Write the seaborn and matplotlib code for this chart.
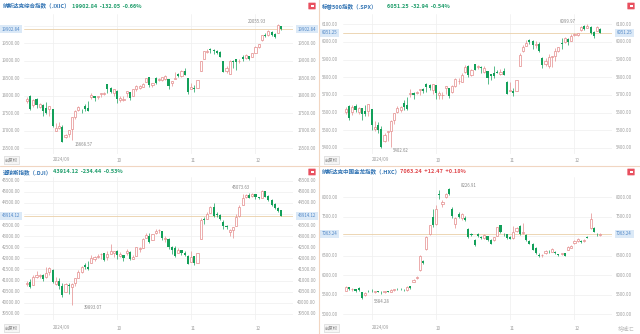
import numpy as np
import pandas as pd
import matplotlib
matplotlib.use("Agg")
import matplotlib.pyplot as plt
import seaborn as sns
from matplotlib import transforms
from matplotlib.patches import FancyBboxPatch

sns.set_theme(style="white")
plt.rcParams['font.family'] = ['Noto Sans CJK SC', 'DejaVu Sans']

W, H = 640, 334

# ---------------- data ----------------
dates = pd.bdate_range('2024-08-21', '2024-12-12', freq='C',
                       holidays=['2024-09-02', '2024-11-28'])
month_labels = ['2024/09', '10', '11', '12']
month_starts = ['2024-09-03', '2024-10-01', '2024-11-01', '2024-12-02']

ixic_open = [17850, 17990, 17730, 17900, 17670, 17740, 17650, 17620,
             17620, 17000, 17080, 17120, 16820, 16900, 17050, 17400, 17580, 17600, 17720, 17640,
             17970, 17980, 17970, 18050, 18060, 18330, 18220, 18080,
             18150, 17870, 17880, 18080, 18100, 18000, 18180, 18220, 18240, 18390, 18530, 18320,
             18520, 18440, 18440, 18480, 18480, 18360, 18490, 18630, 18570, 18720, 18500,
             18200, 18230, 18220, 18720, 19060, 19250, 19350, 19300, 19290, 19250, 18990, 18710,
             18630, 19000, 19040, 18980, 19120, 19090, 19150, 19100,
             19230, 19400, 19580, 19750, 19740, 19820, 19760, 19790, 19990]
ixic_high = [17960, 18017, 17900, 17930, 17780, 17760, 17820, 17720,
             17625, 17230, 17240, 17170, 16920, 17030, 17400, 17590, 17710, 17620, 17760, 17840,
             18070, 18000, 18000, 18090, 18110, 18340, 18240, 18200,
             18160, 17980, 18000, 18140, 18110, 18190, 18300, 18300, 18370, 18520, 18540, 18370,
             18530, 18520, 18550, 18600, 18490, 18430, 18690, 18640, 18740, 18780, 18510,
             18360, 18300, 18460, 19000, 19280, 19350, 19370, 19340, 19320, 19270, 19000, 18840,
             19010, 19020, 19060, 19060, 19160, 19180, 19150, 19230,
             19410, 19490, 19740, 19790, 19870, 19850, 19800, 20055.93, 20000]
ixic_low = [17800, 17580, 17670, 17640, 17640, 17420, 17480, 17430,
            17100, 16990, 17040, 16668.57, 16790, 16810, 16740, 17330, 17570, 17520, 17560, 17560,
            17900, 17840, 17910, 17960, 18020, 18090, 18070, 17990,
            17800, 17830, 17840, 17960, 17880, 17990, 18150, 18180, 18240, 18380, 18250, 18250,
            18340, 18410, 18410, 18440, 18180, 18290, 18480, 18530, 18540, 18600, 18060,
            18190, 18120, 18210, 18710, 19050, 19220, 19220, 19180, 19200, 19100, 18670, 18650,
            18620, 18800, 18750, 18930, 18980, 19060, 19030, 19100,
            19230, 19370, 19570, 19680, 19710, 19700, 19660, 19780, 19890]
ixic_close = [17918.99, 17619.35, 17877.79, 17725.77, 17754.82, 17556.03, 17516.43, 17713.62,
              17136.30, 17084.30, 17127.66, 16690.83, 16884.60, 17025.88, 17395.53, 17569.68,
              17683.98, 17592.13, 17628.06, 17573.30, 18013.98, 17948.32, 17974.27, 18074.52,
              18082.21, 18190.29, 18119.59, 18189.17,
              17910.36, 17925.12, 17918.48, 18137.85, 17923.90, 18182.92, 18291.62, 18282.05,
              18342.94, 18502.69, 18315.59, 18367.08, 18373.61, 18489.55, 18540.01, 18573.13,
              18276.65, 18415.49, 18518.61, 18567.19, 18712.75, 18607.93, 18095.15,
              18239.92, 18179.98, 18439.17, 18983.47, 19269.46, 19286.78, 19298.76, 19281.40,
              19230.74, 19107.65, 18680.12, 18791.81, 18987.47, 18966.14, 18972.42, 19003.65,
              19054.84, 19174.30, 19060.48, 19218.17,
              19403.95, 19480.91, 19735.12, 19700.26, 19859.77, 19736.69, 19687.24, 20034.89,
              19902.84]

spx_open = [5603, 5637, 5602, 5639, 5602, 5624, 5607, 5612,
            5623, 5507, 5529, 5507, 5442, 5490, 5496, 5557, 5605, 5615, 5655, 5641,
            5703, 5709, 5712, 5727, 5733, 5762, 5756, 5727,
            5757, 5698, 5698, 5737, 5737, 5715, 5751, 5778, 5775, 5829, 5866, 5816,
            5875, 5860, 5857, 5833, 5834, 5817, 5826, 5833, 5819, 5836, 5775,
            5723, 5725, 5722, 5864, 5947, 5976, 6009, 6003, 5985, 5990, 5912, 5874,
            5864, 5917, 5922, 5948, 5992, 6000, 6015, 6003,
            6040, 6041, 6069, 6089, 6081, 6083, 6058, 6060, 6075]
spx_high = [5633, 5643, 5641, 5651, 5631, 5627, 5646, 5651,
            5623, 5552, 5546, 5522, 5484, 5497, 5560, 5600, 5636, 5636, 5670, 5690,
            5733, 5716, 5725, 5735, 5742, 5767, 5764, 5765,
            5758, 5720, 5718, 5753, 5739, 5756, 5797, 5796, 5822, 5871, 5870, 5846,
            5878, 5872, 5866, 5863, 5835, 5818, 5862, 5842, 5847, 5851, 5781,
            5772, 5741, 5783, 5936, 5983, 6013, 6018, 6009, 6008, 6000, 5915, 5909,
            5932, 5920, 5964, 5973, 6020, 6026, 6020, 6044,
            6053, 6052, 6089, 6099, 6099.97, 6088, 6065, 6092, 6079]
spx_low = [5591, 5560, 5585, 5602, 5593, 5560, 5583, 5581,
           5504, 5499, 5486, 5402.62, 5434, 5441, 5406, 5535, 5600, 5605, 5614, 5615,
           5686, 5675, 5704, 5698, 5714, 5715, 5727, 5704,
           5675, 5679, 5675, 5703, 5683, 5714, 5745, 5763, 5775, 5824, 5804, 5808,
           5840, 5846, 5824, 5822, 5762, 5784, 5799, 5823, 5811, 5811, 5703,
           5723, 5696, 5722, 5864, 5945, 5976, 5986, 5962, 5966, 5943, 5853, 5865,
           5854, 5860, 5893, 5944, 5963, 5993, 5985, 6003,
           6033, 6034, 6061, 6070, 6079, 6048, 6024, 6060, 6051]
spx_close = [5620.85, 5570.64, 5634.61, 5616.84, 5625.80, 5592.18, 5591.96, 5648.40,
             5528.93, 5520.07, 5503.41, 5408.42, 5471.05, 5495.52, 5554.13, 5595.76,
             5626.02, 5633.09, 5634.58, 5618.26, 5713.64, 5702.55, 5718.57, 5732.93,
             5722.26, 5745.37, 5738.17, 5762.48,
             5708.75, 5709.54, 5699.94, 5751.07, 5695.94, 5751.13, 5792.04, 5780.05,
             5815.03, 5859.85, 5815.26, 5842.47, 5841.47, 5864.67, 5853.98, 5851.20,
             5797.42, 5809.86, 5808.12, 5823.52, 5832.92, 5813.67, 5705.45,
             5728.80, 5712.69, 5782.76, 5929.04, 5973.10, 5995.54, 6001.35, 5983.99,
             5985.38, 5949.17, 5870.62, 5893.62, 5916.98, 5917.11, 5948.71, 5969.34,
             5987.37, 6021.63, 5998.74, 6032.38,
             6047.15, 6049.88, 6086.49, 6075.11, 6090.27, 6052.85, 6034.91, 6084.19, 6051.25]

dji_open = [40830, 40920, 40800, 41160, 41190, 41250, 41160, 41400,
            41470, 40830, 41000, 40770, 40490, 40820, 40720, 40880, 41130, 41370, 41680, 41620,
            41790, 41960, 42080, 42190, 42220, 42060, 42190, 42260,
            42320, 42120, 42130, 42240, 42300, 41990, 42100, 42440, 42460, 42930, 43010, 42820,
            43130, 43260, 43240, 42880, 42880, 42530, 42480, 42230, 42370, 42220, 42100,
            41820, 42090, 41800, 42880, 43780, 43770, 44050, 44300, 43970, 43960, 43650, 43440,
            43200, 43290, 43450, 43890, 44400, 44780, 44860, 44790,
            44880, 44760, 44720, 45030, 44790, 44620, 44430, 44280, 44160]
dji_high = [40990, 41080, 41240, 41420, 41300, 41290, 41590, 41590,
            41510, 41140, 41100, 40870, 40900, 40870, 40890, 41130, 41460, 41660, 41810, 41900,
            42140, 42090, 42190, 42220, 42240, 42320, 42630, 42340,
            42370, 42270, 42140, 42410, 42310, 42140, 42520, 42490, 42900, 43140, 43160, 43110,
            43330, 43330, 43240, 42990, 42900, 42540, 42550, 42480, 42380, 42320, 42130,
            42310, 42110, 42240, 43800, 43870, 44070, 44350, 44490, 44100, 44010, 43710, 43520,
            43330, 43430, 43990, 44420, 44900, 44900, 44960, 44960,
            44890, 44770, 45073.63, 45040, 44840, 44650, 44480, 44310, 44170]
dji_low = [40770, 40660, 40780, 41120, 41110, 40960, 41110, 41250,
           40880, 40780, 40640, 40250, 40480, 40400, 39893.07, 40770, 41110, 41330, 41510, 41480,
           41790, 41870, 42030, 41990, 41880, 41940, 42190, 42080,
           41980, 42060, 41890, 42140, 41920, 41950, 42090, 42270, 42450, 42900, 42700, 42810,
           43080, 43140, 42820, 42740, 42400, 42180, 42060, 42220, 42160, 42120, 41740,
           41820, 41700, 41790, 42880, 43560, 43760, 44030, 43880, 43880, 43720, 43340, 43320,
           43000, 42920, 43440, 43880, 44380, 44700, 44700, 44780,
           44670, 44650, 44710, 44750, 44560, 44360, 44220, 44100, 43900]
dji_close = [40890.49, 40712.78, 41175.08, 41240.52, 41250.50, 41091.42, 41335.05, 41563.08,
             40936.93, 40974.97, 40755.75, 40345.41, 40829.59, 40736.96, 40861.71, 41096.77,
             41393.78, 41622.08, 41606.18, 41503.10, 42025.19, 42063.36, 42124.65, 42208.22,
             41914.75, 42175.11, 42313.00, 42330.15,
             42156.97, 42196.52, 42011.59, 42352.75, 41954.24, 42080.37, 42512.00, 42454.12,
             42863.86, 43065.22, 42740.42, 43077.70, 43239.05, 43275.91, 42931.60, 42924.89,
             42514.95, 42374.36, 42114.40, 42387.57, 42233.05, 42141.54, 41763.46,
             42052.19, 41794.60, 42221.88, 43729.93, 43729.34, 43988.99, 44293.13, 43910.98,
             43958.19, 43750.86, 43444.99, 43389.60, 43268.94, 43408.47, 43870.35, 44296.51,
             44736.57, 44860.31, 44722.06, 44910.65,
             44782.00, 44705.53, 45014.04, 44765.71, 44642.52, 44401.93, 44247.83, 44148.56,
             43914.12]

hxc_open = [5610, 5690, 5640, 5640, 5680, 5570, 5500, 5600,
            5600, 5570, 5590, 5580, 5560, 5580, 5580, 5620, 5660, 5650, 5620, 5620,
            5720, 5840, 5930, 6146, 6360, 6682, 7067, 7495,
            7308, 8090, 7830, 8000, 8220, 7700, 7320, 7560, 7460, 7480, 7180, 7060,
            6900, 7060, 6980, 6950, 7000, 6900, 6900, 7020, 7280, 7040, 7050,
            6980, 6950, 7130, 7260, 7080, 7040, 6880, 6813, 6700, 6530, 6510, 6560,
            6600, 6610, 6600, 6530, 6550, 6560, 6660, 6700,
            6820, 6870, 6880, 6880, 6980, 7200, 7210, 7060, 7040]
hxc_high = [5720, 5700, 5680, 5650, 5700, 5580, 5560, 5620,
            5640, 5600, 5610, 5600, 5600, 5610, 5640, 5660, 5680, 5670, 5640, 5720,
            5730, 5900, 5980, 6520, 6400, 7000, 7300, 7700,
            7800, 8190, 7920, 8120, 8226.91, 7760, 7500, 7620, 7600, 7520, 7200, 7080,
            6920, 7080, 7000, 7060, 7020, 6920, 6990, 7250, 7300, 7080, 7060,
            7000, 7260, 7250, 7290, 7350, 7060, 6900, 6830, 6720, 6560, 6540, 6650,
            6640, 6700, 6620, 6550, 6580, 6570, 6740, 6780,
            6900, 6950, 6900, 6920, 7000, 7605, 7230, 7080, 7090]
hxc_low = [5590, 5620, 5610, 5570, 5600, 5384.28, 5480, 5570,
           5560, 5540, 5560, 5520, 5540, 5560, 5560, 5610, 5630, 5620, 5600, 5600,
           5660, 5830, 5900, 6120, 6290, 6660, 7040, 7250,
           7300, 7950, 7760, 7980, 8060, 7480, 7200, 7480, 7420, 7400, 6960, 7000,
           6750, 6990, 6920, 6940, 6880, 6800, 6880, 7000, 7090, 7000, 6930,
           6920, 6940, 7110, 7040, 7060, 6880, 6800, 6640, 6540, 6480, 6480, 6550,
           6570, 6600, 6540, 6490, 6530, 6490, 6650, 6690,
           6810, 6860, 6840, 6860, 6950, 7190, 7100, 7000, 7020]
hxc_close = [5700, 5640, 5660, 5590, 5615, 5430, 5540, 5590,
             5590, 5580, 5575, 5560, 5590, 5575, 5630, 5650, 5645, 5640, 5615, 5700,
             5670, 5890, 5960, 6487, 6323, 6982, 7282, 7282,
             7692, 8060, 7880, 8090, 8090, 7530, 7460, 7500, 7560, 7420, 6974, 7030,
             6769, 7000, 6950, 7040, 6900, 6810, 6970, 7238, 7110, 7030, 6950,
             6930, 7120, 7220, 7060, 7100, 6900, 6813, 6650, 6560, 6500, 6520, 6630,
             6590, 6680, 6560, 6520, 6560, 6500, 6720, 6760,
             6880, 6920, 6850, 6900, 6960, 7451, 7110, 7050.77, 7063.24]

panels = [
    dict(name='纳斯达克综合指数（.IXIC）', quote='19902.84  -132.05  -0.66%', qcol='#1f9d6b',
         o=ixic_open, h=ixic_high, l=ixic_low, c=ixic_close,
         ticks=[16500, 17000, 17500, 18000, 18500, 19000, 19500, 20000],
         box=(24, 14, 293, 154), ylim=(16337, 20337), tx=3, qx=72, ty=6, xl=160,
         lx=2, rx=316, icon=309),
    dict(name='标普500指数（.SPX）', quote='6051.25  -32.94  -0.54%', qcol='#1f9d6b',
         o=spx_open, h=spx_high, l=spx_low, c=spx_close,
         ticks=[5400, 5500, 5600, 5700, 5800, 5900, 6000, 6100],
         box=(343, 14, 612, 154), ylim=(5366, 6158.5), tx=322, qx=387, ty=6, xl=160,
         lx=322, rx=632, icon=628),
    dict(name='道琼斯指数（.DJI）', quote='43914.12  -234.44  -0.53%', qcol='#1f9d6b',
         o=dji_open, h=dji_high, l=dji_low, c=dji_close,
         ticks=[39500, 40000, 40500, 41000, 41500, 42000, 42500, 43000, 43500, 44000, 44500, 45000, 45500],
         box=(24, 177, 293, 320), ylim=(39226, 45662), tx=3, qx=53, ty=172, xl=328,
         lx=2, rx=316, icon=309),
    dict(name='纳斯达克中国金龙指数（.HXC）', quote='7063.24  +12.47  +0.18%', qcol='#e0474c',
         o=hxc_open, h=hxc_high, l=hxc_low, c=hxc_close,
         ticks=[5000, 5500, 6000, 6500, 7000, 7500, 8000],
         box=(343, 177, 612, 320), ylim=(4854, 8520), tx=322, qx=400, ty=172, xl=328,
         lx=322, rx=632, icon=628),
]

UP = '#e48c8c'
DN = '#13a05a'
GRID = '#efefef'
TXT = '#9c9c9c'
STEP = 3.22  # px per trading day

fig = plt.figure(figsize=(W / 100, H / 100), dpi=100)
fig.patch.set_facecolor('white')


def fx(px):
    return px / W


def fy(py):
    return 1 - py / H


month_idx = [int(np.searchsorted(dates, pd.Timestamp(d))) for d in month_starts]

for p in panels:
    l_, t_, r_, b_ = p['box']
    ax = fig.add_axes([fx(l_), fy(b_), (r_ - l_) / W, (b_ - t_) / H])
    ax.set_facecolor('white')
    df = pd.DataFrame(dict(x=np.arange(len(dates)), o=p['o'], h=p['h'], l=p['l'], c=p['c']))
    df['up'] = df.c >= df.o
    y0, y1 = p['ylim']
    minh = (y1 - y0) * 0.004
    df['bot'] = np.minimum(df.o, df.c)
    df['hgt'] = np.maximum((df.c - df.o).abs(), minh)

    ax.vlines(df.x, df.l, df.h, colors=np.where(df.up, UP, DN), linewidth=0.5, zorder=2)
    u = df[df.up]
    d = df[~df.up]
    ax.bar(u.x, u.hgt, bottom=u.bot, width=0.66, facecolor='white', edgecolor=UP,
           linewidth=0.5, zorder=3)
    ax.bar(d.x, d.hgt, bottom=d.bot, width=0.66, color=DN, linewidth=0, zorder=3)

    ax.set_xlim(-0.9, 82.65)
    ax.set_ylim(y0, y1)
    ax.set_yticks(p['ticks'])
    ax.set_xticks(month_idx)
    ax.grid(True, color=GRID, linewidth=0.5)
    ax.tick_params(labelleft=False, labelbottom=False, length=0)
    for s in ax.spines.values():
        s.set_visible(False)

    last = p['c'][-1]
    ax.axhline(last, color='#ead0a8', linewidth=0.6, zorder=1)

    # y tick labels on both sides
    tr = transforms.blended_transform_factory(fig.transFigure, ax.transData)
    ppu = (b_ - t_) / (y1 - y0)
    for v in p['ticks']:
        if abs(v - last) * ppu < 7:
            continue
        ax.text(fx(p['lx']), v, f'{v:.2f}', transform=tr, ha='left', va='center',
                fontsize=3.1, color=TXT)
        ax.text(fx(p['rx']), v, f'{v:.2f}', transform=tr, ha='right', va='center',
                fontsize=3.1, color=TXT)
    bb = dict(boxstyle='square,pad=0.35', fc='#dbe9f7', ec='none')
    ax.text(fx(p['lx']), last, f'{last:.2f}', transform=tr, ha='left', va='center',
            fontsize=3.1, color='#4f86c6', bbox=bb)
    ax.text(fx(p['rx']), last, f'{last:.2f}', transform=tr, ha='right', va='center',
            fontsize=3.1, color='#4f86c6', bbox=bb)

    # max / min annotations
    imax = int(np.argmax(p['h']))
    imin = int(np.argmin(p['l']))
    off = 12 / STEP
    vmax, vmin = p['h'][imax], p['l'][imin]
    if imax > 40:
        ax.text(imax - off, vmax, f'{vmax:.2f}', ha='right', va='bottom', fontsize=3.1, color='#888888')
    else:
        ax.text(imax + off, vmax, f'{vmax:.2f}', ha='left', va='bottom', fontsize=3.1, color='#888888')
    ax.text(imin + off, vmin, f'{vmin:.2f}', ha='left', va='top', fontsize=3.1, color='#888888')

    # x labels
    trx = transforms.blended_transform_factory(ax.transData, fig.transFigure)
    for i, lab in zip(month_idx, month_labels):
        ax.text(i, fy(p['xl']), lab, transform=trx, ha='left', va='center',
                fontsize=3.3, color=TXT)
    fig.text(fx(p['lx'] + 3), fy(p['xl']), '前复权', ha='left', va='center', fontsize=3.2,
             color='#888888', bbox=dict(boxstyle='square,pad=0.3', fc='#f6f6f6', ec='#cfcfcf', lw=0.4))

    # titles
    fig.text(fx(p['tx']), fy(p['ty']), p['name'], ha='left', va='center', fontsize=4.0,
             color='#2f72b3', fontweight='bold')
    fig.text(fx(p['qx']), fy(p['ty']), p['quote'], ha='left', va='center', fontsize=4.0,
             color=p['qcol'], fontweight='bold')
    icon = FancyBboxPatch((fx(p['icon']), fy(p['ty'] + 3)), 6 / W, 6 / H,
                          boxstyle='round,pad=0.001', transform=fig.transFigure,
                          fc='#e8505f', ec='none')
    fig.patches.append(icon)
    inner = FancyBboxPatch((fx(p['icon'] + 1.5), fy(p['ty'] + 1.3)), 3 / W, 2.6 / H,
                           boxstyle='square,pad=0', transform=fig.transFigure,
                           fc='white', ec='none')
    fig.patches.append(inner)

# separators
fig.add_artist(plt.Line2D([0, 1], [fy(166), fy(166)], transform=fig.transFigure,
                          color='#f1d6c2', linewidth=0.8))
fig.add_artist(plt.Line2D([fx(319), fx(319)], [0, 1], transform=fig.transFigure,
                          color='#f1d6c2', linewidth=0.8))
fig.text(fx(634), fy(328), '格隆汇', ha='right', va='center', fontsize=4, color='#c4c4c4')

fig.savefig('out.png', dpi=100, facecolor='white')
